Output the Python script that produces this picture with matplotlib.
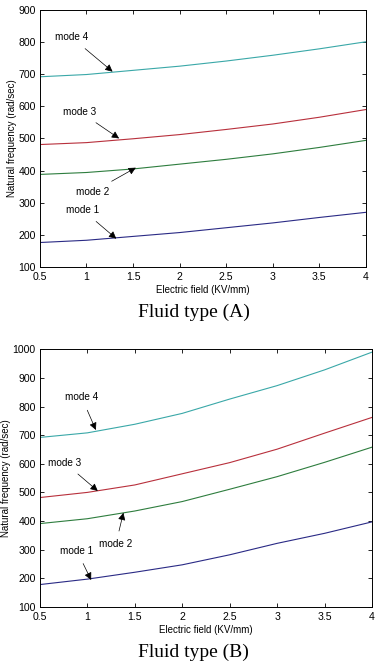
import matplotlib
matplotlib.use("Agg")
import matplotlib.pyplot as plt

# Electric field (KV/mm)
field = [0.5, 1.0, 1.5, 2.0, 2.5, 3.0, 3.5, 4.0]

# Fluid type (A), natural frequency (rad/sec)
a_mode1 = [176, 183, 195, 207, 222, 237, 254, 270]
a_mode2 = [388, 394, 405, 420, 435, 452, 472, 494]
a_mode3 = [481, 487, 499, 512, 528, 545, 566, 590]
a_mode4 = [692, 699, 712, 725, 741, 759, 779, 801]

# Fluid type (B)
b_mode1 = [178, 197, 221, 247, 282, 322, 357, 397]
b_mode2 = [391, 408, 435, 468, 511, 555, 605, 658]
b_mode3 = [482, 500, 526, 565, 604, 651, 707, 762]
b_mode4 = [692, 708, 738, 776, 826, 873, 928, 990]

mode_labels = ["mode 1", "mode 2", "mode 3", "mode 4"]
mode_colors = ["#2a2a85", "#2e7d3e", "#b8303c", "#3aa8a8"]

# (text x, text y, arrow x, arrow y) in data units
a_notes = [(0.96, 277, 1.32, 188), (1.07, 334, 1.53, 409),
           (0.93, 583, 1.35, 500), (0.84, 815, 1.28, 708)]
b_notes = [(0.89, 296, 1.04, 194), (1.30, 319, 1.38, 429),
           (0.76, 604, 1.11, 505), (0.94, 832, 1.09, 718)]

plt.rcParams["font.family"] = ["Liberation Sans", "DejaVu Sans"]

fig = plt.figure(figsize=(3.8, 6.64), dpi=100)


def draw_panel(rect, series, notes, ylim, yticks, caption, caption_y):
    ax = fig.add_axes(rect)
    for vals, color in zip(series, mode_colors):
        ax.plot(field, vals, color=color, linewidth=0.8)
    for (tx, ty, ax_x, ax_y), label in zip(notes, mode_labels):
        ax.annotate(label, xy=(ax_x, ax_y), xytext=(tx, ty),
                    ha="center", va="center", fontsize=7.2,
                    arrowprops=dict(arrowstyle="-|>", color="black",
                                    lw=0.5, mutation_scale=11,
                                    shrinkA=4, shrinkB=0))
    ax.set_xlim(0.5, 4)
    ax.set_ylim(*ylim)
    ax.set_xticks([0.5, 1, 1.5, 2, 2.5, 3, 3.5, 4])
    ax.set_xticklabels(["0.5", "1", "1.5", "2", "2.5", "3", "3.5", "4"])
    ax.set_yticks(yticks)
    ax.tick_params(direction="in", length=3, width=0.6, labelsize=7.6,
                   top=True, right=True)
    ax.tick_params(axis="x", pad=4)
    ax.tick_params(axis="y", pad=3)
    for sp in ax.spines.values():
        sp.set_linewidth(0.7)
    ax.set_xlabel("Electric field (KV/mm)", fontsize=7, labelpad=2)
    ax.set_ylabel("Natural frequency (rad/sec)", fontsize=7, labelpad=1)
    fig.text(0.51, caption_y, caption, ha="center", va="center",
             fontsize=14, family="Liberation Serif")
    return ax


draw_panel([0.105, 0.598, 0.858, 0.387],
           [a_mode1, a_mode2, a_mode3, a_mode4], a_notes,
           (100, 900), list(range(100, 901, 100)), "Fluid type (A)", 0.529)
draw_panel([0.105, 0.086, 0.874, 0.388],
           [b_mode1, b_mode2, b_mode3, b_mode4], b_notes,
           (100, 1000), list(range(100, 1001, 100)), "Fluid type (B)", 0.017)

fig.savefig("out.png", dpi=100)
